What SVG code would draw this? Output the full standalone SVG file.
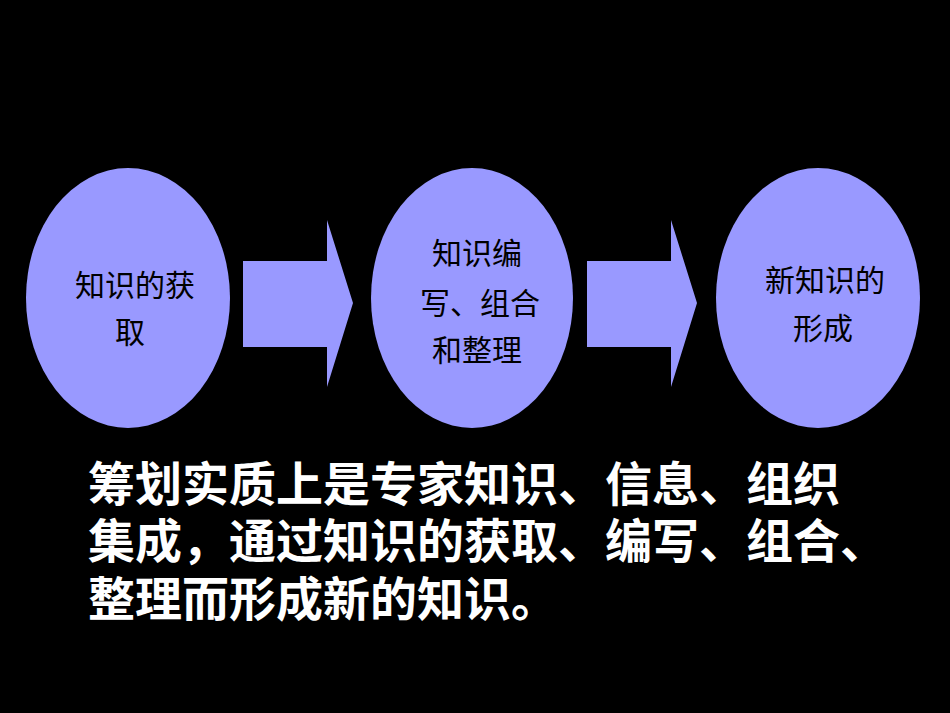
<svg xmlns="http://www.w3.org/2000/svg" width="950" height="713" viewBox="0 0 950 713">
<style>
.node{fill:#9999FF;}
.arrow{fill:#9999FF;}
.nt{font-family:"Noto Sans CJK SC","Noto Sans",sans-serif;font-size:30px;fill:#000;text-anchor:middle;}
.body{font-family:"Noto Sans CJK SC","Noto Sans",sans-serif;font-size:47px;font-weight:bold;fill:#fff;}
</style>
<rect x="0" y="0" width="950" height="713" fill="#000"/>
<g id="connectors">
<polygon class="arrow" points="243,261 327,261 327,220 353,303 327,387 327,347 243,347"/>
<polygon class="arrow" points="587,261 671,261 671,220 697,303 671,387 671,347 587,347"/>
</g>
<g id="node1">
<ellipse class="node" cx="128" cy="298" rx="102" ry="130"/>
<text class="nt" x="135" y="296">知识的获</text>
<text class="nt" x="130" y="343">取</text>
</g>
<g id="node2">
<ellipse class="node" cx="472" cy="298" rx="101" ry="130"/>
<text class="nt" x="477" y="264">知识编</text>
<text class="nt" x="480" y="314">写、组合</text>
<text class="nt" x="477" y="361">和整理</text>
</g>
<g id="node3">
<ellipse class="node" cx="818" cy="298" rx="102" ry="130"/>
<text class="nt" x="825" y="291">新知识的</text>
<text class="nt" x="823" y="339">形成</text>
</g>
<g id="caption">
<text class="body" x="88" y="501">筹划实质上是专家知识、信息、组织</text>
<text class="body" x="88" y="558">集成，通过知识的获取、编写、组合、</text>
<text class="body" x="88" y="616">整理而形成新的知识。</text>
</g>
</svg>
